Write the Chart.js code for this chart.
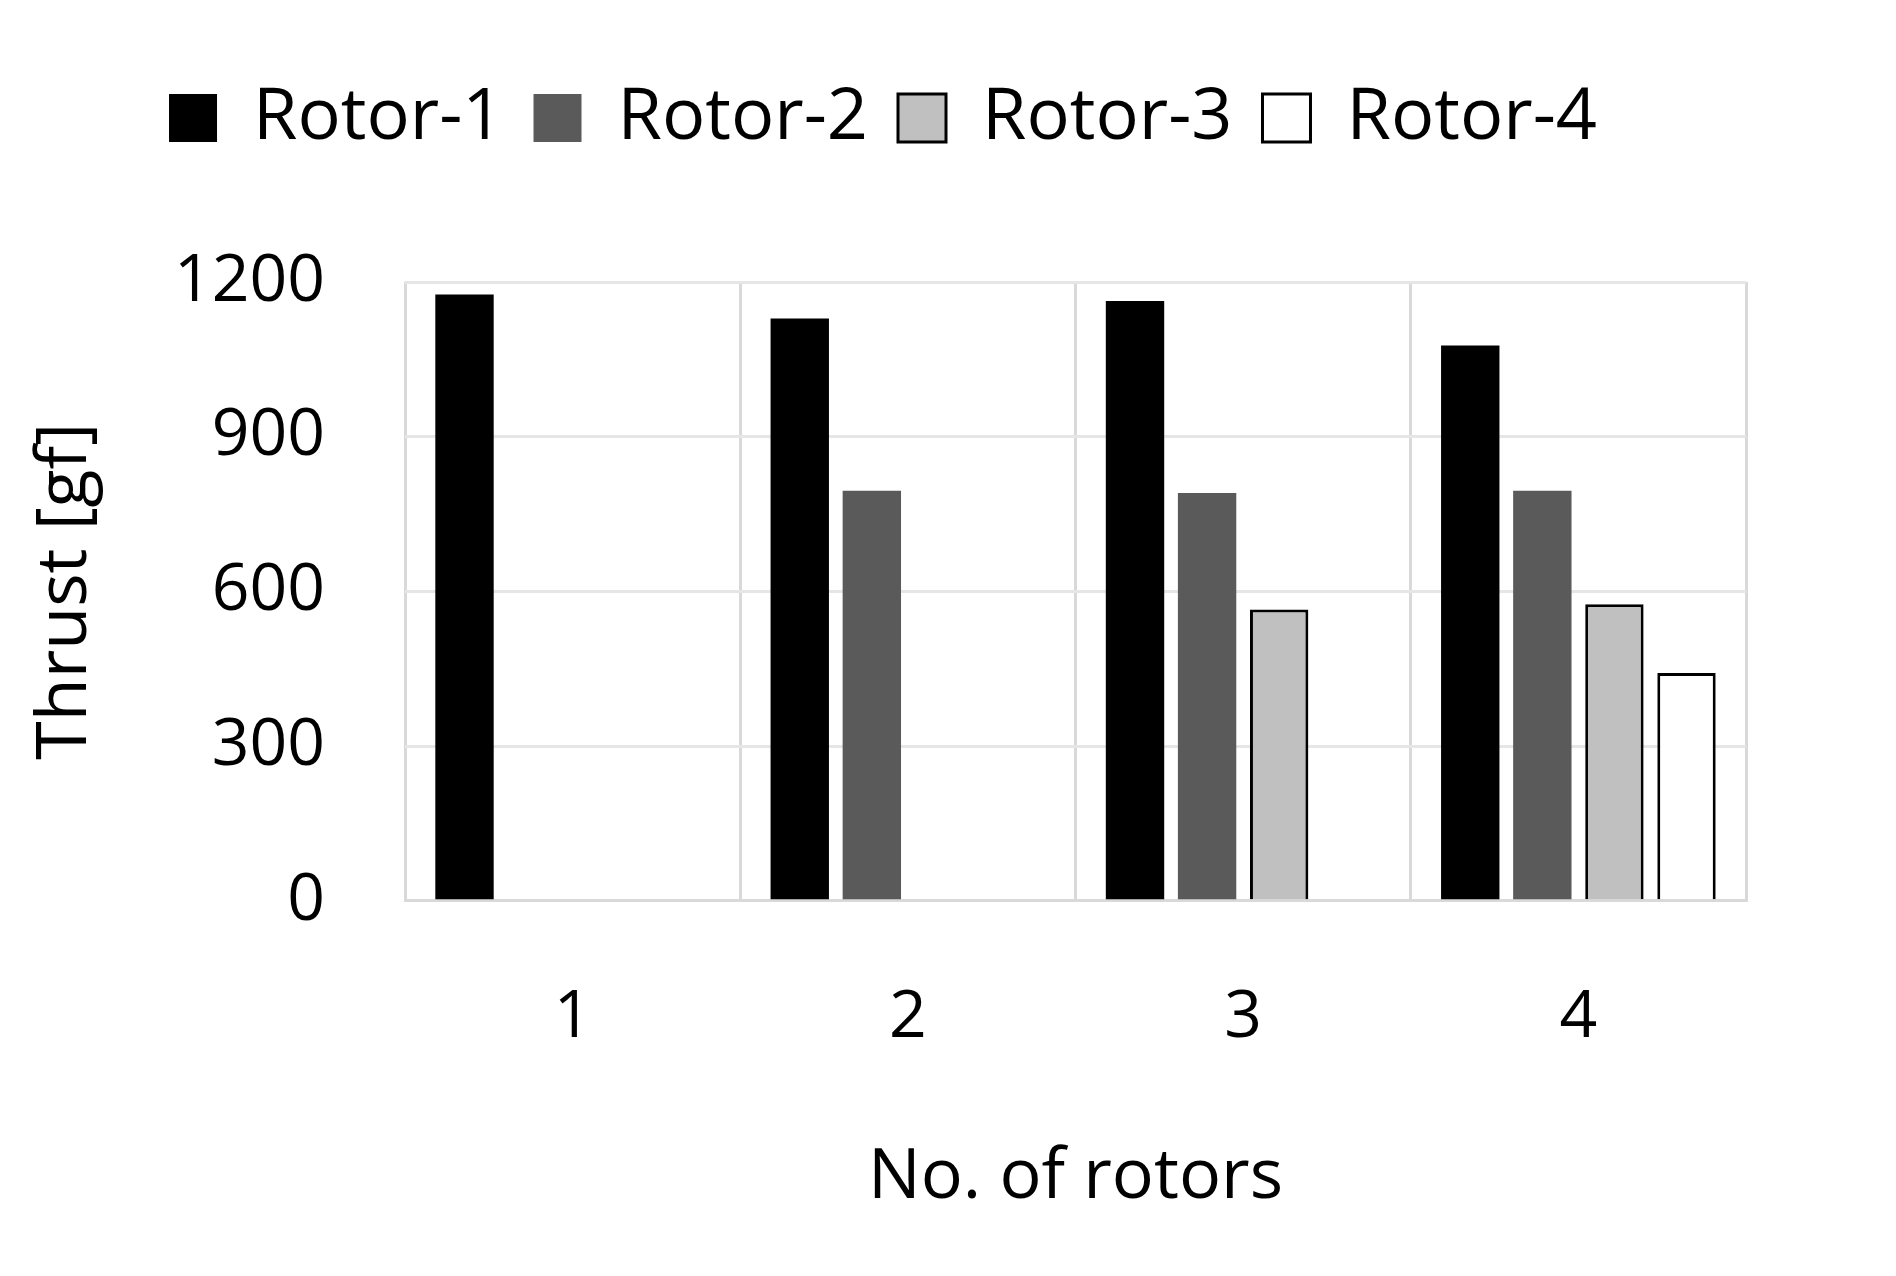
<!DOCTYPE html>
<html>
<head>
<style>
  html, body { margin: 0; padding: 0; background: #fff; }
  #wrap { width: 1896px; height: 1276px; }
</style>
<script src="https://cdn.jsdelivr.net/npm/chart.js@4/dist/chart.umd.min.js"></script>
</head>
<body>
<div id="wrap"><canvas id="myChart"></canvas></div>
<script>
// values
var categories = ['1', '2', '3', '4'];
var rotor1 = [1176, 1129, 1163, 1077];
var rotor2 = [null, 795, 791, 795];
var rotor3 = [null, null, 565, 575];
var rotor4 = [null, null, null, 442];
var yTicks = [0, 300, 600, 900, 1200];

var font = 'Open Sans, Liberation Sans, sans-serif';

// extra room below the legend
var legendGap = {
  id: 'legendGap',
  beforeInit: function (chart) {
    var fit = chart.legend.fit;
    chart.legend.fit = function () {
      fit.bind(chart.legend)();
      this.height += 118;
    };
  }
};

var myChart = new Chart(document.getElementById('myChart'), {
  type: 'bar',
  plugins: [legendGap],
  data: {
    labels: categories,
    datasets: [
      { label: 'Rotor-1', data: rotor1, backgroundColor: '#000000', borderColor: '#000000', borderWidth: 0 },
      { label: 'Rotor-2', data: rotor2, backgroundColor: '#5a5a5a', borderColor: '#5a5a5a', borderWidth: 0 },
      { label: 'Rotor-3', data: rotor3, backgroundColor: '#c0c0c0', borderColor: '#000000', borderWidth: 3 },
      { label: 'Rotor-4', data: rotor4, backgroundColor: '#ffffff', borderColor: '#000000', borderWidth: 3 }
    ]
  },
  options: {
    responsive: true,
    maintainAspectRatio: false,
    animation: false,
    categoryPercentage: 0.86,
    barPercentage: 0.81,
    layout: { padding: { top: 52, right: 150, bottom: 56, left: 20 } },
    plugins: {
      tooltip: { enabled: false },
      legend: {
        position: 'top',
        labels: {
          color: '#000',
          font: { family: font, size: 72 },
          boxWidth: 48,
          boxHeight: 48,
          padding: 30,
          useBorderRadius: false
        }
      }
    },
    scales: {
      x: {
        grid: { color: '#d9d9d9', lineWidth: 3, offset: true, drawTicks: false },
        border: { color: '#d9d9d9', width: 3 },
        ticks: { color: '#000', font: { family: font, size: 66 }, padding: 78 },
        title: { display: true, text: 'No. of rotors', color: '#000', font: { family: font, size: 70 }, padding: { top: 0, bottom: 0 } }
      },
      y: {
        min: 0,
        max: 1200,
        afterBuildTicks: function (scale) { scale.ticks = yTicks.map(function (v) { return { value: v }; }); },
        afterFit: function (scale) { scale.width = 385; },
        grid: { color: '#e6e6e6', lineWidth: 3, drawTicks: false },
        border: { display: false },
        ticks: {
          color: '#000', font: { family: font, size: 66 }, padding: 80,
          callback: function (v) { return String(v); }
        },
        title: { display: true, text: 'Thrust [gf]', color: '#000', font: { family: font, size: 70 }, padding: { bottom: 10 } }
      }
    }
  }
});
</script>
</body>
</html>
